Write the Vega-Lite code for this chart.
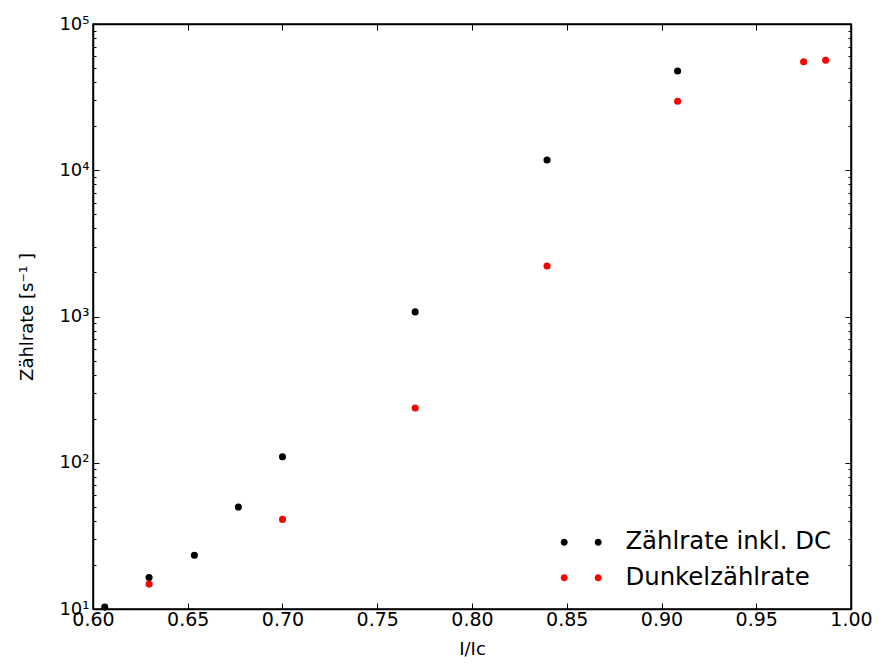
{
  "$schema": "https://vega.github.io/schema/vega-lite/v6.json",
  "autosize": {"type": "none"},
  "width": 758,
  "height": 585,
  "padding": {"left": 93, "top": 24, "right": 31, "bottom": 57},
  "background": "white",
  "config": {
    "view": {"stroke": "black", "strokeWidth": 1.5},
    "axis": {
      "labelFont": "DejaVu Sans", "labelFontSize": 18, "labelColor": "black",
      "titleFont": "DejaVu Sans", "titleFontSize": 18, "titleFontWeight": "normal", "titleColor": "black",
      "domainColor": "black", "domainWidth": 1.5, "tickColor": "black", "tickWidth": 1,
      "grid": false, "labelOverlap": false, "labelFlush": false
    },
    "legend": {"labelFont": "DejaVu Sans", "labelFontSize": 24.4, "labelColor": "black", "labelLimit": 0}
  },
  "data": {"values": [
    {"x": 0.6062, "y": 10.3, "series": "Zählrate inkl. DC"},
    {"x": 0.6296, "y": 16.4, "series": "Zählrate inkl. DC"},
    {"x": 0.6535, "y": 23.3, "series": "Zählrate inkl. DC"},
    {"x": 0.6767, "y": 49.8, "series": "Zählrate inkl. DC"},
    {"x": 0.7, "y": 110, "series": "Zählrate inkl. DC"},
    {"x": 0.77, "y": 1075, "series": "Zählrate inkl. DC"},
    {"x": 0.8396, "y": 11750, "series": "Zählrate inkl. DC"},
    {"x": 0.9085, "y": 47700, "series": "Zählrate inkl. DC"},
    {"x": 0.6296, "y": 14.8, "series": "Dunkelzählrate"},
    {"x": 0.7, "y": 41.0, "series": "Dunkelzählrate"},
    {"x": 0.77, "y": 237, "series": "Dunkelzählrate"},
    {"x": 0.8396, "y": 2213, "series": "Dunkelzählrate"},
    {"x": 0.9085, "y": 29600, "series": "Dunkelzählrate"},
    {"x": 0.975, "y": 55200, "series": "Dunkelzählrate"},
    {"x": 0.9866, "y": 56500, "series": "Dunkelzählrate"}
  ]},
  "layer": [
    {
      "mark": {"type": "point", "filled": true, "opacity": 1, "size": 50},
      "encoding": {
        "x": {"field": "x", "type": "quantitative",
          "scale": {"domain": [0.6, 1.0], "nice": false, "zero": false},
          "axis": {"orient": "bottom", "title": "I/Iᴄ", "values": [0.6, 0.65, 0.7, 0.75, 0.8, 0.85, 0.9, 0.95, 1.0],
            "format": ".2f", "tickSize": -6, "labelPadding": 7, "titlePadding": 11,
            "labelFont": "DejaVu Sans", "labelFontSize": 19, "titleFont": "DejaVu Sans", "titleFontSize": 18, "titleFontWeight": "normal"}},
        "y": {"field": "y", "type": "quantitative",
          "scale": {"type": "log", "domain": [10, 100000], "nice": false},
          "axis": {"orient": "left", "title": "Zählrate [s⁻¹ ]",
            "values": [10,20,30,40,50,60,70,80,90,100,200,300,400,500,600,700,800,900,1000,2000,3000,4000,5000,6000,7000,8000,9000,10000,20000,30000,40000,50000,60000,70000,80000,90000,100000],
            "labelExpr": "indexof([10,100,1000,10000,100000], datum.value) >= 0 ? '10' + ['','¹','²','³','⁴','⁵'][round(log(datum.value)/LN10)] : ''",
            "tickSize": {"condition": {"test": "indexof([10,100,1000,10000,100000], datum.value) >= 0", "value": -6}, "value": -3},
            "labelPadding": 10, "titlePadding": 22,
            "labelFont": "DejaVu Sans", "labelFontSize": 18, "titleFont": "DejaVu Sans", "titleFontSize": 18, "titleFontWeight": "normal"}},
        "color": {"field": "series", "type": "nominal",
          "scale": {"domain": ["Zählrate inkl. DC", "Dunkelzählrate"], "range": ["#000000", "#ff0000"]},
          "legend": {"title": null, "orient": "bottom-right", "offset": 19,
            "symbolType": "M -1,0 A 1,1 0 1,0 1,0 A 1,1 0 1,0 -1,0 Z M 8.714,0 A 1,1 0 1,0 10.714,0 A 1,1 0 1,0 8.714,0 Z",
            "symbolSize": 49, "symbolStrokeWidth": 0, "labelOffset": 49, "rowPadding": 10.5, "labelLimit": 0,
            "labelFont": "DejaVu Sans", "labelFontSize": 24.4}}
      }
    },
    {
      "mark": {"type": "point", "filled": true, "opacity": 0, "size": 50},
      "encoding": {
        "x": {"field": "x", "type": "quantitative",
          "axis": {"orient": "top", "title": null, "labels": false, "values": [0.6, 0.65, 0.7, 0.75, 0.8, 0.85, 0.9, 0.95, 1.0], "tickSize": -6}},
        "y": {"field": "y", "type": "quantitative",
          "axis": {"orient": "right", "title": null, "labels": false,
            "values": [10,20,30,40,50,60,70,80,90,100,200,300,400,500,600,700,800,900,1000,2000,3000,4000,5000,6000,7000,8000,9000,10000,20000,30000,40000,50000,60000,70000,80000,90000,100000],
            "tickSize": {"condition": {"test": "indexof([10,100,1000,10000,100000], datum.value) >= 0", "value": -6}, "value": -3}}}
      }
    }
  ],
  "resolve": {"axis": {"x": "independent", "y": "independent"}}
}
